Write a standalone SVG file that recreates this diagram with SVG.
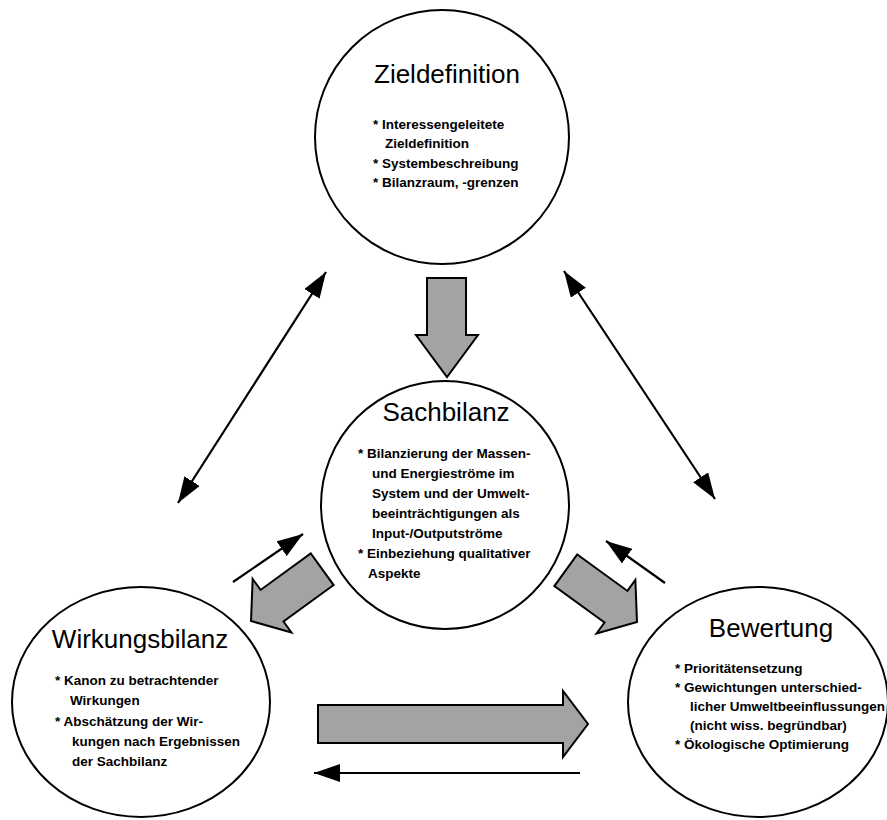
<svg xmlns="http://www.w3.org/2000/svg" width="887" height="820" viewBox="0 0 887 820">
<style>
.node{fill:#fff;stroke:#000;stroke-width:2}
.title{font-family:"Liberation Sans",Arial,sans-serif;font-size:26px;text-anchor:middle;fill:#000}
.b{font-family:"Liberation Sans",Arial,sans-serif;font-size:13.5px;font-weight:bold;fill:#000}
.thin{stroke:#000;stroke-width:2.2;fill:none}
.block{fill:#a3a3a3;stroke:#000;stroke-width:2;stroke-linejoin:miter}
</style>
<defs>
<marker id="ah" markerUnits="userSpaceOnUse" markerWidth="26" markerHeight="18" refX="26" refY="9" orient="auto-start-reverse">
<path d="M0,0 L26,9 L0,18 Z" fill="#000"/>
</marker>
<path id="blk" d="M0,-19.5 L62,-19.5 L62,-33 L88,0 L62,33 L62,19.5 L0,19.5 Z"/>
</defs>
<rect width="887" height="820" fill="#fff"/>
<g id="connectors">
<line class="thin" x1="178" y1="503" x2="326" y2="272" marker-start="url(#ah)" marker-end="url(#ah)"/>
<line class="thin" x1="564" y1="271" x2="715" y2="499" marker-start="url(#ah)" marker-end="url(#ah)"/>
<line class="thin" x1="233" y1="582" x2="303" y2="534" marker-end="url(#ah)"/>
<line class="thin" x1="665" y1="583" x2="606" y2="541" marker-end="url(#ah)"/>
<line class="thin" x1="580" y1="773" x2="314" y2="773" marker-end="url(#ah)"/>
<path class="block" d="M427,278 L466,278 L466,335 L478,335 L447,377 L416,335 L427,335 Z"/>
<use href="#blk" class="block" transform="translate(251,621) rotate(144) translate(-88,0)"/>
<use href="#blk" class="block" transform="translate(637,622) rotate(36) translate(-88,0)"/>
<path class="block" d="M318,705 L563,705 L563,691 L588,724 L563,757 L563,743 L318,743 Z"/>
</g>
<g id="zieldefinition">
<circle class="node" cx="442" cy="137" r="127"/>
<text class="title" x="447" y="83">Zieldefinition</text>
<text class="b" x="373" y="129">* Interessengeleitete</text>
<text class="b" x="385" y="148">Zieldefinition</text>
<text class="b" x="373" y="168">* Systembeschreibung</text>
<text class="b" x="373" y="187">* Bilanzraum, -grenzen</text>
</g>
<g id="sachbilanz">
<circle class="node" cx="445" cy="505" r="124"/>
<text class="title" x="446" y="421">Sachbilanz</text>
<text class="b" x="358" y="458">* Bilanzierung der Massen-</text>
<text class="b" x="372" y="478">und Energieströme im</text>
<text class="b" x="372" y="498">System und der Umwelt-</text>
<text class="b" x="372" y="518">beeinträchtigungen als</text>
<text class="b" x="372" y="538">Input-/Outputströme</text>
<text class="b" x="358" y="558">* Einbeziehung qualitativer</text>
<text class="b" x="368" y="578">Aspekte</text>
</g>
<g id="wirkungsbilanz">
<ellipse class="node" cx="141" cy="702" rx="129" ry="115"/>
<text class="title" x="140" y="648">Wirkungsbilanz</text>
<text class="b" x="55" y="685">* Kanon zu betrachtender</text>
<text class="b" x="70" y="705">Wirkungen</text>
<text class="b" x="55" y="726">* Abschätzung der Wir-</text>
<text class="b" x="72" y="746">kungen nach Ergebnissen</text>
<text class="b" x="72" y="766">der Sachbilanz</text>
</g>
<g id="bewertung">
<ellipse class="node" cx="758" cy="702" rx="130" ry="115"/>
<text class="title" x="771" y="637">Bewertung</text>
<text class="b" x="675" y="673">* Prioritätensetzung</text>
<text class="b" x="675" y="692">* Gewichtungen unterschied-</text>
<text class="b" x="690" y="711">licher Umweltbeeinflussungen</text>
<text class="b" x="690" y="730">(nicht wiss. begründbar)</text>
<text class="b" x="675" y="749">* Ökologische Optimierung</text>
</g>
</svg>
